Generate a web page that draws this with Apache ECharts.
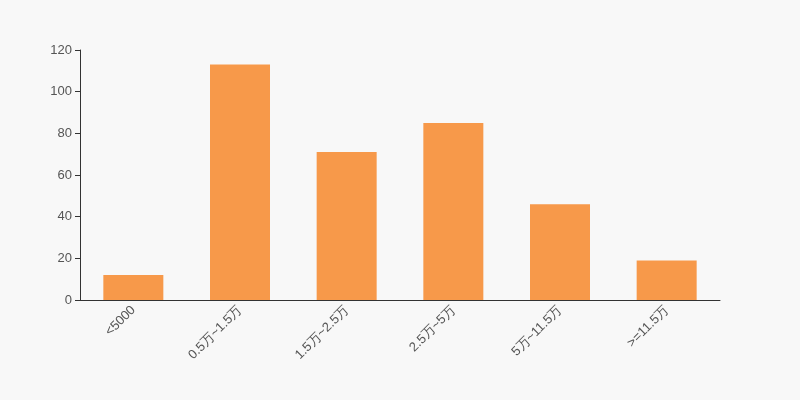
<!DOCTYPE html>
<html>
<head>
<meta charset="utf-8">
<script src="https://cdn.jsdelivr.net/npm/echarts@6/dist/echarts.min.js"></script>
<style>html,body{margin:0;padding:0;background:#f8f8f8;}#main{width:800px;height:400px;}</style>
</head>
<body>
<div id="main"></div>
<script>
var categories = ['<5000', '0.5万~1.5万', '1.5万~2.5万', '2.5万~5万', '5万~11.5万', '>=11.5万'];
var values = [12, 113, 71, 85, 46, 19];
var yTicks = {min: 0, max: 120, interval: 20};

var chart = echarts.init(document.getElementById('main'));
chart.setOption({
  backgroundColor: '#f8f8f8',
  animation: false,
  grid: {left: 80, right: 80, top: 50, bottom: 100},
  xAxis: {
    type: 'category',
    data: categories,
    axisLine: {lineStyle: {color: '#333'}},
    axisTick: {alignWithLabel: false, lineStyle: {color: '#333'}},
    axisLabel: {rotate: 45, color: '#555', fontSize: 13, interval: 0}
  },
  yAxis: {
    type: 'value',
    min: yTicks.min, max: yTicks.max, interval: yTicks.interval,
    axisLine: {show: true, lineStyle: {color: '#333'}},
    axisTick: {show: true, lineStyle: {color: '#333'}},
    axisLabel: {color: '#555', fontSize: 13},
    splitLine: {show: false}
  },
  series: [{
    type: 'bar',
    data: values,
    barWidth: 60,
    itemStyle: {color: '#f7994a'}
  }]
});
</script>
</body>
</html>
